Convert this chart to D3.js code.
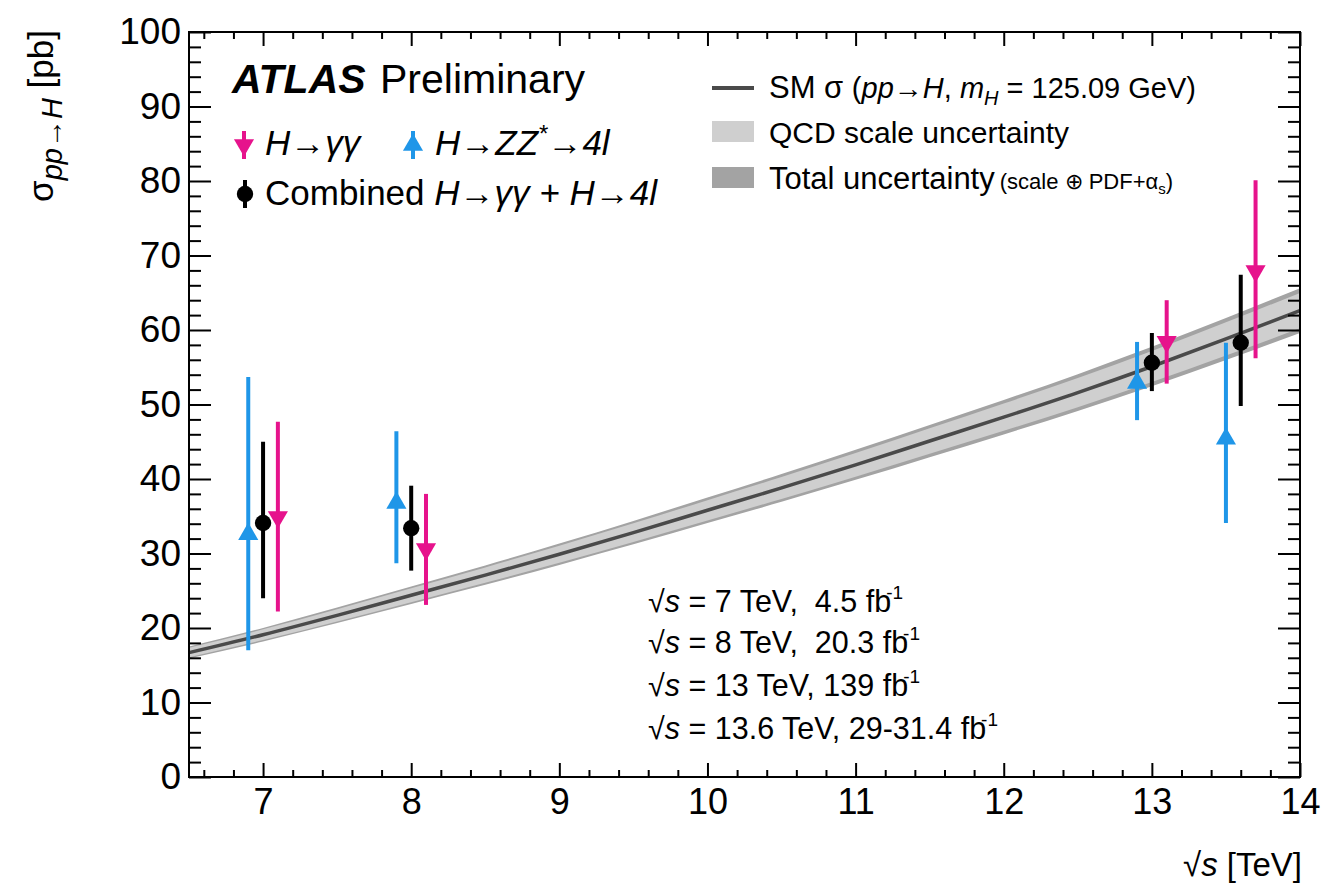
<!DOCTYPE html>
<html>
<head>
<meta charset="utf-8">
<script src="https://cdn.jsdelivr.net/npm/d3@7"></script>
<style>
  body { margin: 0; background: #fff; }
  svg text { font-family: "Liberation Sans", Arial, Helvetica, sans-serif; fill: #000; }
</style>
</head>
<body>
<svg id="chart" width="1332" height="891"></svg>
<script>
// ---- data ----
// SM prediction vs sqrt(s)
var smEnergy = [6.5, 7, 7.5, 8, 8.5, 9, 9.5, 10, 10.5, 11, 11.5, 12, 12.5, 13, 13.5, 14];
var smXsec   = [16.7, 19.1, 21.7, 24.4, 27.1, 29.9, 32.8, 35.8, 38.8, 41.9, 45.1, 48.3, 51.6, 55.1, 58.8, 62.6];
var qcdUncPct = [3.8, 3.8, 3.8, 3.8, 3.8, 3.8, 3.8, 3.8, 3.8, 3.8, 3.8, 3.8, 3.8, 3.8, 3.8, 3.8];
var totUncPct = [4.8, 4.8, 4.8, 4.8, 4.8, 4.8, 4.8, 4.8, 4.8, 4.8, 4.8, 4.8, 4.8, 4.8, 4.8, 4.8];

// measurements (points shifted in sqrt(s) for visibility, as in the plot)
var gamgamE  = [7.1, 8.1, 13.1, 13.7];
var gamgamXs = [34.9, 30.6, 58.4, 67.9];
var gamgamUp = [12.8, 7.4, 5.6, 12.2];
var gamgamDn = [12.7, 7.5, 5.6, 11.7];

var zzE  = [6.9, 7.9, 12.9, 13.5];
var zzXs = [32.6, 36.8, 52.9, 45.4];
var zzUp = [21.1, 9.6, 5.5, 12.9];
var zzDn = [15.6, 8.1, 5.0, 11.3];

var combE  = [7.0, 8.0, 13.0, 13.6];
var combXs = [34.1, 33.4, 55.6, 58.3];
var combUp = [10.9, 5.7, 4.0, 9.1];
var combDn = [10.1, 5.7, 3.8, 8.5];

var xTicks = [7, 8, 9, 10, 11, 12, 13, 14];
var yTicks = [0, 10, 20, 30, 40, 50, 60, 70, 80, 90, 100];

var lumiLines = [
  "7 TeV,  4.5 fb",
  "8 TeV,  20.3 fb",
  "13 TeV, 139 fb",
  "13.6 TeV, 29-31.4 fb"
];

var colGamGam = "#e6138c";
var colZZ = "#1f96e8";

// ---- scales ----
var svg = d3.select("#chart");
var plotLeft = 189, plotRight = 1300, plotTop = 32, plotBottom = 777;

var x = d3.scaleLinear().domain([6.5, 14]).range([plotLeft, plotRight]);
var y = d3.scaleLinear().domain([0, 100]).range([plotBottom, plotTop]);

var xMinor = d3.range(6.6, 14.001, 0.2).filter(function(v){ return Math.abs(v - Math.round(v)) > 0.01; });
var yMinor = d3.range(0, 100.001, 2).filter(function(v){ return v % 10 !== 0; });

// ---- theory band ----
var smData = smEnergy.map(function(e, i){
  return { e: e, v: smXsec[i], q: qcdUncPct[i] / 100, t: totUncPct[i] / 100 };
});

var plot = svg.append("g");

plot.append("path")
  .datum(smData)
  .attr("fill", "#a3a3a3")
  .attr("d", d3.area()
    .curve(d3.curveMonotoneX)
    .x(function(d){ return x(d.e); })
    .y0(function(d){ return y(d.v * (1 - d.t)); })
    .y1(function(d){ return y(d.v * (1 + d.t)); }));

plot.append("path")
  .datum(smData)
  .attr("fill", "#cfcfcf")
  .attr("d", d3.area()
    .curve(d3.curveMonotoneX)
    .x(function(d){ return x(d.e); })
    .y0(function(d){ return y(d.v * (1 - d.q)); })
    .y1(function(d){ return y(d.v * (1 + d.q)); }));

plot.append("path")
  .datum(smData)
  .attr("fill", "none")
  .attr("stroke", "#4a4a4a")
  .attr("stroke-width", 3.5)
  .attr("d", d3.line()
    .curve(d3.curveMonotoneX)
    .x(function(d){ return x(d.e); })
    .y(function(d){ return y(d.v); }));

// ---- measurements ----
var triangle = d3.symbol().type(d3.symbolTriangle).size(175);
var circle = d3.symbol().type(d3.symbolCircle).size(210);

function drawSeries(es, vals, ups, dns, color, shape, rot) {
  var pts = es.map(function(e, i){ return { e: e, v: vals[i], up: ups[i], dn: dns[i] }; });
  var g = plot.append("g");
  g.selectAll("line")
    .data(pts)
    .enter().append("line")
      .attr("x1", function(d){ return x(d.e); })
      .attr("x2", function(d){ return x(d.e); })
      .attr("y1", function(d){ return y(d.v + d.up); })
      .attr("y2", function(d){ return y(d.v - d.dn); })
      .attr("stroke", color)
      .attr("stroke-width", 4);
  g.selectAll("path")
    .data(pts)
    .enter().append("path")
      .attr("d", shape)
      .attr("transform", function(d){ return "translate(" + x(d.e) + "," + y(d.v) + ") rotate(" + rot + ")"; })
      .attr("fill", color);
}

drawSeries(zzE, zzXs, zzUp, zzDn, colZZ, triangle, 0);
drawSeries(gamgamE, gamgamXs, gamgamUp, gamgamDn, colGamGam, triangle, 180);
drawSeries(combE, combXs, combUp, combDn, "#000", circle, 0);

// ---- axes ----
function styleAxis(g, fs) {
  g.select(".domain").remove();
  g.selectAll("line").attr("stroke", "#000").attr("stroke-width", 2);
  g.selectAll("text").attr("font-size", fs).attr("fill", "#000")
    .style("font-family", '"Liberation Sans", Arial, sans-serif');
}

var xAxis = svg.append("g").attr("transform", "translate(0," + plotBottom + ")")
  .call(d3.axisBottom(x).tickValues(xTicks).tickSize(-14).tickPadding(11).tickFormat(d3.format("d")));
styleAxis(xAxis, 36);
var xAxisMinor = svg.append("g").attr("transform", "translate(0," + plotBottom + ")")
  .call(d3.axisBottom(x).tickValues(xMinor).tickSize(-7).tickFormat(""));
styleAxis(xAxisMinor, 0);

var xTop = svg.append("g").attr("transform", "translate(0," + plotTop + ")")
  .call(d3.axisTop(x).tickValues(xTicks).tickSize(-14).tickFormat(""));
styleAxis(xTop, 0);
var xTopMinor = svg.append("g").attr("transform", "translate(0," + plotTop + ")")
  .call(d3.axisTop(x).tickValues(xMinor).tickSize(-7).tickFormat(""));
styleAxis(xTopMinor, 0);

var yAxis = svg.append("g").attr("transform", "translate(" + plotLeft + ",0)")
  .call(d3.axisLeft(y).tickValues(yTicks).tickSize(-22).tickPadding(8).tickFormat(d3.format("d")));
styleAxis(yAxis, 37);
var yAxisMinor = svg.append("g").attr("transform", "translate(" + plotLeft + ",0)")
  .call(d3.axisLeft(y).tickValues(yMinor).tickSize(-12).tickFormat(""));
styleAxis(yAxisMinor, 0);

var yRight = svg.append("g").attr("transform", "translate(" + plotRight + ",0)")
  .call(d3.axisRight(y).tickValues(yTicks).tickSize(-22).tickFormat(""));
styleAxis(yRight, 0);
var yRightMinor = svg.append("g").attr("transform", "translate(" + plotRight + ",0)")
  .call(d3.axisRight(y).tickValues(yMinor).tickSize(-12).tickFormat(""));
styleAxis(yRightMinor, 0);

svg.append("rect")
  .attr("x", plotLeft).attr("y", plotTop)
  .attr("width", plotRight - plotLeft).attr("height", plotBottom - plotTop)
  .attr("fill", "none").attr("stroke", "#000").attr("stroke-width", 2);

// axis titles
var xt = svg.append("text").attr("x", 1302).attr("y", 876).attr("text-anchor", "end").attr("font-size", 33);
xt.append("tspan").text("√");
xt.append("tspan").attr("font-style", "italic").text("s");
xt.append("tspan").text(" [TeV]");

var yt = svg.append("text")
  .attr("transform", "translate(53,30) rotate(-90)")
  .attr("text-anchor", "end").attr("font-size", 35);
yt.append("tspan").text("σ");
yt.append("tspan").attr("font-size", 29).attr("font-style", "italic").attr("dy", 9).text("pp→H");
yt.append("tspan").attr("dy", -9).text(" [pb]");

// ---- left legend ----
svg.append("text").attr("x", 232).attr("y", 93)
  .attr("font-size", 41).attr("font-weight", "bold").attr("font-style", "italic").text("ATLAS");
svg.append("text").attr("x", 380).attr("y", 93).attr("font-size", 41).text("Preliminary");

function legendMarker(cx, cy, color, shape, rot) {
  svg.append("line").attr("x1", cx).attr("x2", cx).attr("y1", cy - 14).attr("y2", cy + 14)
    .attr("stroke", color).attr("stroke-width", 4);
  svg.append("path").attr("d", shape).attr("fill", color)
    .attr("transform", "translate(" + cx + "," + cy + ") rotate(" + rot + ")");
}

legendMarker(244, 145, colGamGam, triangle, 180);
svg.append("text").attr("x", 265).attr("y", 155).attr("font-size", 35).attr("font-style", "italic").text("H→γγ");
legendMarker(413, 145, colZZ, triangle, 0);
var zzt = svg.append("text").attr("x", 435).attr("y", 155).attr("font-size", 35).attr("font-style", "italic");
zzt.append("tspan").text("H→ZZ");
zzt.append("tspan").attr("font-size", 24).attr("dy", -13).text("*");
zzt.append("tspan").attr("dy", 13).text("→4l");

legendMarker(245, 194, "#000", circle, 0);
var ct = svg.append("text").attr("x", 265).attr("y", 205).attr("font-size", 35);
ct.append("tspan").text("Combined ");
ct.append("tspan").attr("font-style", "italic").text("H→γγ + H→4l");

// ---- right legend ----
svg.append("line").attr("x1", 712).attr("x2", 754).attr("y1", 88).attr("y2", 88)
  .attr("stroke", "#4a4a4a").attr("stroke-width", 4);
var smt = svg.append("text").attr("x", 769).attr("y", 98).attr("font-size", 29);
smt.append("tspan").attr("font-size", 31).text("SM σ ");
smt.append("tspan").text("(");
smt.append("tspan").attr("font-style", "italic").text("pp");
smt.append("tspan").text("→");
smt.append("tspan").attr("font-style", "italic").text("H");
smt.append("tspan").text(", ");
smt.append("tspan").attr("font-style", "italic").text("m");
smt.append("tspan").attr("font-style", "italic").attr("font-size", 20).attr("dy", 7).text("H");
smt.append("tspan").attr("dy", -7).text(" = 125.09 GeV)");

svg.append("rect").attr("x", 712).attr("y", 121).attr("width", 42).attr("height", 21).attr("fill", "#cfcfcf");
svg.append("text").attr("x", 769).attr("y", 143).attr("font-size", 30).text("QCD scale uncertainty");

svg.append("rect").attr("x", 712).attr("y", 167).attr("width", 42).attr("height", 21).attr("fill", "#a3a3a3");
var tt = svg.append("text").attr("x", 769).attr("y", 189).attr("font-size", 31);
tt.append("tspan").text("Total uncertainty");
tt.append("tspan").attr("font-size", 22).attr("dx", 5).text("(scale ⊕ PDF+α");
tt.append("tspan").attr("font-size", 15).attr("dy", 5).text("s");
tt.append("tspan").attr("font-size", 22).attr("dy", -5).text(")");

// ---- luminosity annotations ----
var lumiBase = [612, 653, 696, 739];
lumiLines.forEach(function(l, i){
  var t = svg.append("text").attr("x", 648).attr("y", lumiBase[i]).attr("font-size", 30.5)
    .style("white-space", "pre");
  t.append("tspan").text("√");
  t.append("tspan").attr("font-style", "italic").text("s");
  t.append("tspan").text(" = " + l);
  t.append("tspan").attr("font-size", 19).attr("dx", -5).attr("dy", -13).text("-1");
});
</script>
</body>
</html>
